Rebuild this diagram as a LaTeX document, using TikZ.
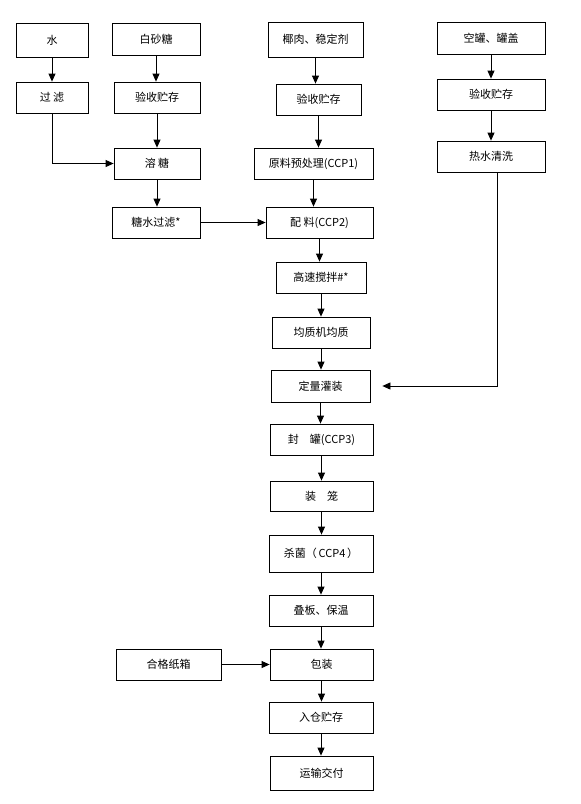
\documentclass[tikz,border=0pt]{standalone}
\usepackage{fontspec}
\newfontfamily\cjk{Noto Sans CJK SC}
\usetikzlibrary{arrows.meta,positioning}

\begin{document}
\begin{tikzpicture}[x=1pt, y=-1pt, >={Triangle[length=8pt,width=7pt]},
  line width=0.8pt,
  every node/.style={font=\cjk\fontsize{11}{13}\selectfont},
  box/.style={draw, rectangle, inner sep=0pt, align=center,
              minimum width=#1, minimum height=31pt},
  box/.default=104pt]
  \useasboundingbox (0,0) rectangle (581,804);
  % left column: water and sugar
  \node[box=72pt, minimum height=34pt] (water)  at (52,40)    {水};
  \node[box=88pt, minimum height=32pt] (sugar)  at (156,39)   {白砂糖};
  \node[box=72pt]                      (filt)   at (52,97.5)  {过 滤};
  \node[box=86pt]                      (chkl)   at (157,97.5) {验收贮存};
  \node[box=86pt]                      (melt)   at (157,163.5){溶 糖};
  \node[box=88pt]                      (syrup)  at (156,222.5){糖水过滤*};
  % right column: cans
  \node[box=108pt, minimum height=32pt] (cans)  at (491,38)   {空罐、罐盖};
  \node[box=108pt]                      (chkr)  at (491,94.5) {验收贮存};
  \node[box=108pt]                      (wash)  at (491,156.5){热水清洗};
  % main line
  \node[box=95pt, minimum height=35pt] (coco)   at (315.5,39.5) {椰肉、稳定剂};
  \node[box=85pt]                      (chkm)   at (318.5,99.5) {验收贮存};
  \node[box=119pt]                     (prep)   at (313.5,163.5){原料预处理(CCP1)};
  \node[box=107pt]                     (blend)  at (319.5,222.5){配 料(CCP2)};
  \node[box=90pt]                      (stir)   at (321,277.5)  {高速搅拌\#*};
  \node[box=98pt]                      (homo)   at (321,332.5)  {均质机均质};
  \node[box=99pt, minimum height=32pt] (fill)   at (320.5,386)  {定量灌装};
  \node[box=103pt]                     (seal)   at (321.5,439.5){封\quad 罐(CCP3)};
  \node[box=103pt, minimum height=30pt] (cage)  at (321.5,496)  {装\quad 笼};
  \node[box=104pt, minimum height=37pt] (steril) at (321,553.5) {杀菌（\,CCP4\,）};
  \node[box=104pt]                     (stack)  at (321,610.5)  {叠板、保温};
  \node[box=103pt]                     (pack)   at (321.5,664.5){包装};
  \node[box=105pt]                     (carton) at (168.5,664.5){合格纸箱};
  \node[box=104pt]                     (store)  at (321,717.5)  {入仓贮存};
  \node[box=103pt, minimum height=34pt] (ship)  at (321.5,773)  {运输交付};
  % straight downward arrows
  \foreach \a/\b in {water/filt, sugar/chkl, chkl/melt, melt/syrup,
                     cans/chkr, chkr/wash,
                     coco/chkm, chkm/prep, prep/blend, blend/stir, stir/homo,
                     homo/fill, fill/seal, seal/cage, cage/steril,
                     steril/stack, stack/pack, pack/store, store/ship}
    \draw[->] (\a.south) -- (\a.south |- \b.north);
  % side feeds
  \draw[->] (filt.south) |- (melt.west);
  \draw[->] (syrup.east) -- (syrup.east -| blend.west);
  \draw[->] (carton.east) -- (pack.west);
  \coordinate (fillin) at ([xshift=12pt]fill.east);
  \draw[->] ([xshift=6pt]wash.south) |- (fillin);
\end{tikzpicture}
\end{document}
